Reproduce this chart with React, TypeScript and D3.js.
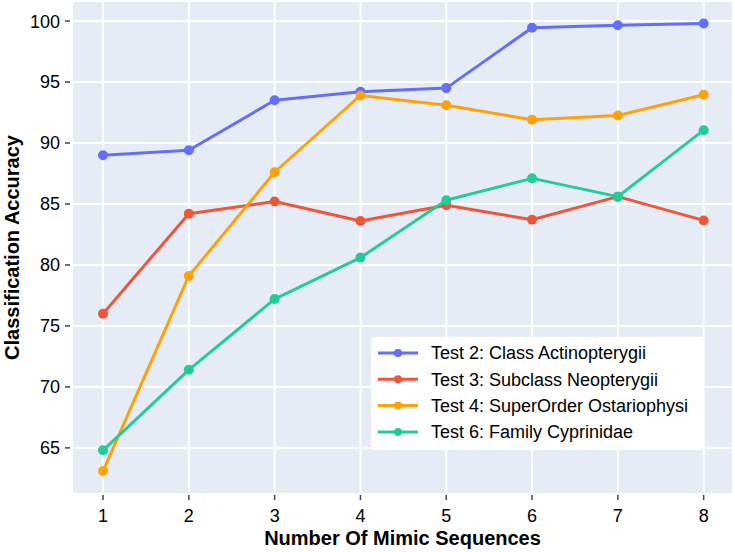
import React from "react";
import * as d3 from "d3";

const xValues = [1, 2, 3, 4, 5, 6, 7, 8];
const seriesNames = [
  "Test 2: Class Actinopterygii",
  "Test 3: Subclass Neopterygii",
  "Test 4: SuperOrder Ostariophysi",
  "Test 6: Family Cyprinidae",
];
const test2 = [89.0, 89.4, 93.5, 94.2, 94.5, 99.45, 99.65, 99.8];
const test3 = [76.0, 84.2, 85.2, 83.6, 84.9, 83.7, 85.6, 83.65];
const test4 = [63.1, 79.1, 87.6, 93.9, 93.1, 91.9, 92.25, 93.95];
const test6 = [64.8, 71.4, 77.2, 80.6, 85.3, 87.1, 85.6, 91.05];
const colors = ["#636EFA", "#EF553B", "#FFA10A", "#22CC96"];
const yTicks = [65, 70, 75, 80, 85, 90, 95, 100];

const W = 735;
const H = 552;
const plot = { left: 73, right: 732, top: 2, bottom: 493 };
const font = "'Liberation Sans', Arial, Helvetica, sans-serif";

export default function App() {
  const series = [test2, test3, test4, test6];
  const x = d3.scaleLinear().domain([0.65, 8.33]).range([plot.left, plot.right]);
  const y = d3.scaleLinear().domain([61.3, 101.56]).range([plot.bottom, plot.top]);
  const line = d3
    .line<number>()
    .x((_, i) => x(xValues[i]))
    .y((d) => y(d));

  const legX = 371;
  const legY = 337;
  const legW = 332;
  const legH = 113;
  const rowH = 26.3;

  return (
    <svg
      width={W}
      height={H}
      style={{ position: "absolute", left: 0, top: 0, background: "#fff" }}
      fontFamily={font}
    >
      <rect
        x={plot.left}
        y={plot.top}
        width={plot.right - plot.left}
        height={plot.bottom - plot.top}
        fill="#E5ECF6"
      />
      {yTicks.map((t) => (
        <g key={"y" + t}>
          <line x1={plot.left} x2={plot.right} y1={y(t)} y2={y(t)} stroke="#fff" strokeWidth={2} />
          <line x1={plot.left - 8} x2={plot.left - 3} y1={y(t)} y2={y(t)} stroke="#444" strokeWidth={1.5} />
          <text x={plot.left - 13} y={y(t)} dy="0.36em" textAnchor="end" fontSize={18} fill="#000">
            {t}
          </text>
        </g>
      ))}
      {xValues.map((t) => (
        <g key={"x" + t}>
          <line x1={x(t)} x2={x(t)} y1={plot.top} y2={plot.bottom} stroke="#fff" strokeWidth={2} />
          <line x1={x(t)} x2={x(t)} y1={plot.bottom + 2} y2={plot.bottom + 7} stroke="#444" strokeWidth={1.5} />
          <text x={x(t)} y={plot.bottom + 29} textAnchor="middle" fontSize={18} fill="#000">
            {t}
          </text>
        </g>
      ))}
      {series.map((s, si) => (
        <g key={"s" + si}>
          <path d={line(s) || ""} fill="none" stroke={colors[si]} strokeWidth={3} strokeLinejoin="round" />
          {s.map((v, i) => (
            <circle key={i} cx={x(xValues[i])} cy={y(v)} r={5} fill={colors[si]} />
          ))}
        </g>
      ))}
      <text
        x={(plot.left + plot.right) / 2}
        y={545}
        textAnchor="middle"
        fontSize={20}
        fontWeight="bold"
        fill="#000"
      >
        Number Of Mimic Sequences
      </text>
      <text
        transform={`translate(19,${(plot.top + plot.bottom) / 2}) rotate(-90)`}
        textAnchor="middle"
        fontSize={20}
        fontWeight="bold"
        fill="#000"
      >
        Classification Accuracy
      </text>
      <g>
        <rect x={legX} y={legY} width={legW} height={legH} rx={3} fill="#fff" fillOpacity={0.95} />
        {seriesNames.map((n, i) => {
          const cy = legY + 16 + i * rowH;
          return (
            <g key={n}>
              <line x1={legX + 7} x2={legX + 47} y1={cy} y2={cy} stroke={colors[i]} strokeWidth={3} />
              <circle cx={legX + 27} cy={cy} r={4} fill={colors[i]} />
              <text x={legX + 60} y={cy} dy="0.36em" fontSize={18} fill="#000">
                {n}
              </text>
            </g>
          );
        })}
      </g>
    </svg>
  );
}
